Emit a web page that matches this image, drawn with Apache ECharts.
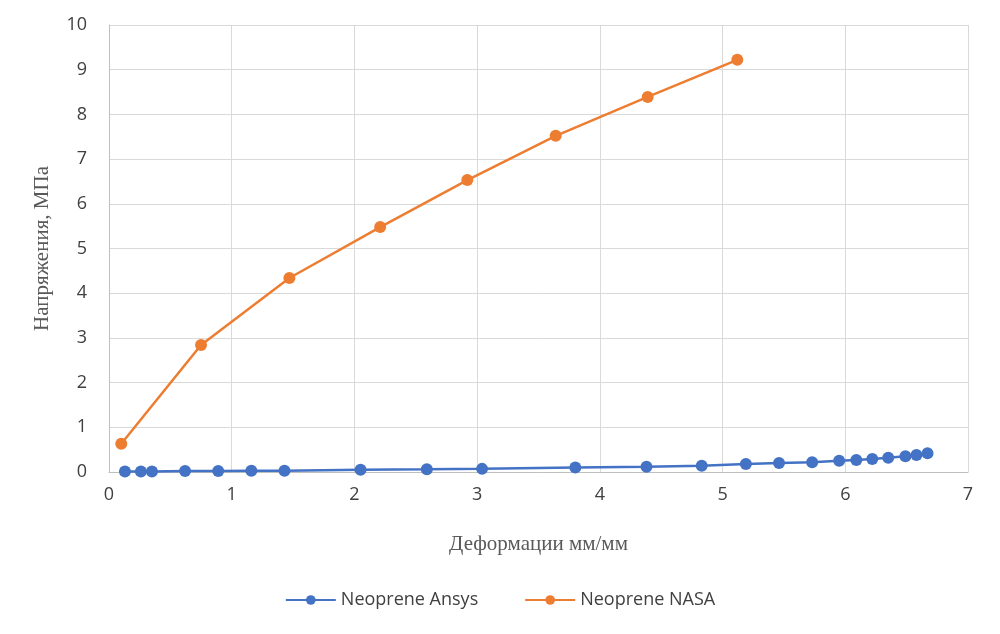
<!DOCTYPE html>
<html>
<head>
<meta charset="utf-8">
<script src="https://cdn.jsdelivr.net/npm/echarts@6/dist/echarts.min.js"></script>
<style>
  html, body { margin: 0; padding: 0; background: #fff; }
  #chart { width: 1000px; height: 634px; }
</style>
</head>
<body>
<div id="chart"></div>
<script>
// данные
var ansysX = [0.13, 0.26, 0.35, 0.62, 0.89, 1.16, 1.43, 2.05, 2.59, 3.04, 3.80, 4.38, 4.83, 5.19, 5.46, 5.73, 5.95, 6.09, 6.22, 6.35, 6.49, 6.58, 6.67];
var ansysY = [0.01, 0.01, 0.01, 0.02, 0.02, 0.03, 0.03, 0.05, 0.06, 0.07, 0.10, 0.12, 0.14, 0.18, 0.20, 0.22, 0.25, 0.27, 0.29, 0.32, 0.35, 0.38, 0.42];
var nasaX = [0.10, 0.75, 1.47, 2.21, 2.92, 3.64, 4.39, 5.12];
var nasaY = [0.63, 2.84, 4.34, 5.48, 6.53, 7.52, 8.39, 9.22];

function pairs(xs, ys) {
  var out = [];
  for (var i = 0; i < xs.length; i++) out.push([xs[i], ys[i]]);
  return out;
}

var chart = echarts.init(document.getElementById('chart'));
var option = {
  animation: false,
  color: ['#4472c4', '#ed7d31'],
  grid: { left: 109, right: 32, top: 25, bottom: 162 },
  legend: {
    bottom: 20,
    left: 'center',
    itemWidth: 50,
    itemHeight: 12,
    itemGap: 46,
    textStyle: { fontFamily: 'Open Sans', fontSize: 18, color: '#404040' },
    data: ['Neoprene Ansys', 'Neoprene NASA']
  },
  xAxis: {
    type: 'value',
    min: 0, max: 7, interval: 1,
    name: 'Деформации мм/мм',
    nameLocation: 'middle',
    nameGap: 62,
    nameTextStyle: { fontFamily: 'Liberation Serif', fontSize: 21, color: '#595959' },
    axisLine: { show: true, lineStyle: { color: '#bfbfbf' } },
    axisTick: { show: false },
    axisLabel: { fontFamily: 'Open Sans', fontSize: 18, color: '#404040', margin: 14 },
    splitLine: { show: true, lineStyle: { color: '#d9d9d9' } }
  },
  yAxis: {
    type: 'value',
    min: 0, max: 10, interval: 1,
    name: 'Напряжения, МПа',
    nameLocation: 'middle',
    nameGap: 56,
    nameTextStyle: { fontFamily: 'Liberation Serif', fontSize: 21, color: '#595959' },
    axisLine: { show: true, lineStyle: { color: '#bfbfbf' } },
    axisTick: { show: false },
    axisLabel: { fontFamily: 'Open Sans', fontSize: 18, color: '#404040', margin: 22 },
    splitLine: { show: true, lineStyle: { color: '#d9d9d9' } }
  },
  series: [
    {
      name: 'Neoprene Ansys',
      type: 'line',
      data: pairs(ansysX, ansysY),
      symbol: 'circle',
      symbolSize: 12,
      lineStyle: { width: 2.5 }
    },
    {
      name: 'Neoprene NASA',
      type: 'line',
      data: pairs(nasaX, nasaY),
      symbol: 'circle',
      symbolSize: 12,
      lineStyle: { width: 2.5 }
    }
  ]
};
chart.setOption(option);
</script>
</body>
</html>
